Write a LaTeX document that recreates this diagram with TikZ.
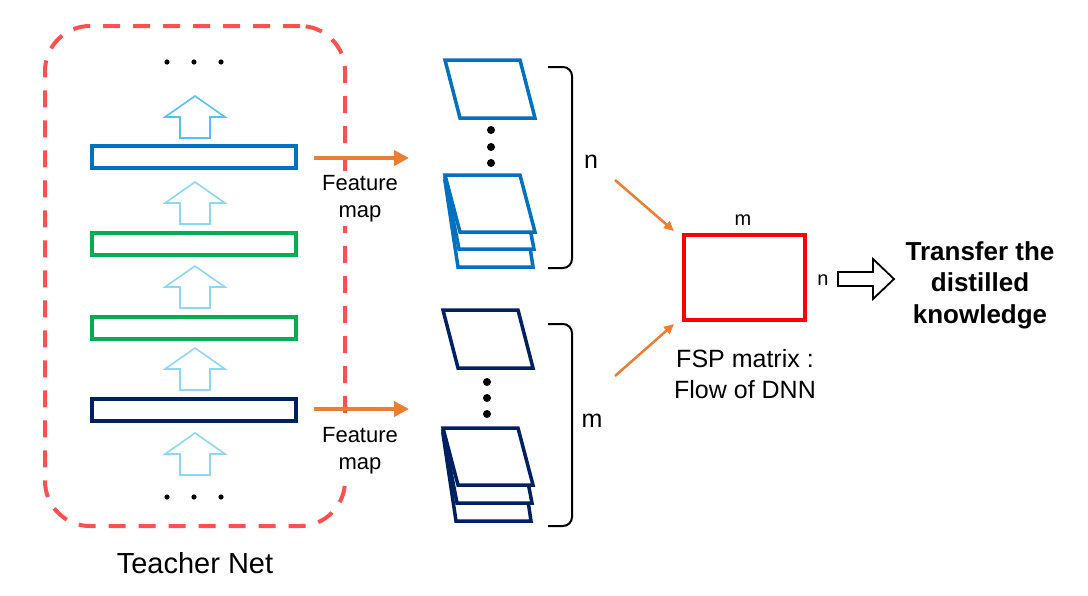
\documentclass[tikz,border=0pt]{standalone}
\usepackage{fontspec}
\setmainfont{Liberation Sans}
\usetikzlibrary{arrows.meta}
\definecolor{lblue}{HTML}{0070C0}
\definecolor{lgreen}{HTML}{00B050}
\definecolor{lnavy}{HTML}{002060}
\definecolor{dashred}{HTML}{FF5050}
\definecolor{lorange}{HTML}{ED7D31}
\definecolor{skyA}{RGB}{80,195,240}
\definecolor{skyB}{RGB}{140,214,246}
\definecolor{fspred}{HTML}{FF0000}
\newcommand{\uparr}[3]{\draw[#3, line width=1.6pt, line join=miter] (#1,#2) -- ++(30,21) -- ++(-15,0) -- ++(0,21) -- ++(-30,0) -- ++(0,-21) -- ++(-15,0) -- cycle;}
\newcommand{\sheet}[4]{\filldraw[fill=white, draw=#4, line width=3.5pt, line join=miter] (#1,#2) -- ++(75,0) -- ++(15,#3) -- ++(-75,0) -- cycle;}
% back sheet: top-left x, top y, bottom y, bottom-left x, colour
\newcommand{\backsheet}[5]{\filldraw[fill=white, draw=#5, line width=3.5pt, line join=miter] (#1,#2) -- ++(75,0) -- (#4+75,#3) -- (#4,#3) -- cycle;}
\begin{document}
\begin{tikzpicture}[x=1pt,y=-1pt,
  layer/.style={draw, line width=4pt, minimum width=204pt, minimum height=22pt, inner sep=0pt},
  fmtext/.style={fill=white, align=center, inner xsep=2pt, inner ysep=4pt, anchor=north, font=\fontsize{22}{27}\selectfont},
  fmarrow/.style={draw=lorange, line width=4pt, -{Triangle[length=15pt, width=15pt]}},
  thinarrow/.style={draw=lorange, line width=2.5pt, -{Triangle[length=10pt, width=9pt]}},
  brace/.style={draw=black, line width=2pt, rounded corners=9pt},
  dotc/.style={fill=black}
]
\useasboundingbox (0,0) rectangle (1088,595);

% teacher net dashed box
\node[draw=dashred, line width=4pt, dash pattern=on 17pt off 13pt, rounded corners=45pt,
      minimum width=300pt, minimum height=500pt, inner sep=0pt] (teacher) at (195,276) {};
\node[anchor=base, font=\fontsize{29}{35}\selectfont] (tlabel) at (195,573) {Teacher Net};

% dots
\foreach \xx in {167,194,221} {
  \fill[dotc] (\xx,62) circle (2.6pt);
  \fill[dotc] (\xx,497) circle (2.6pt);
}

% up arrows
\uparr{195}{96}{skyA}
\uparr{195}{182}{skyB}
\uparr{195}{266}{skyB}
\uparr{195}{348}{skyB}
\uparr{195}{433}{skyB}

% layers
\node[layer, draw=lblue] (L4) at (194,157) {};
\node[layer, draw=lgreen] (L3) at (194,244) {};
\node[layer, draw=lgreen] (L2) at (194,328) {};
\node[layer, draw=lnavy] (L1) at (194,410) {};

% feature map arrows
\coordinate (a1s) at (314,158);
\coordinate (a1e) at (409,158);
\coordinate (a2s) at (314,409);
\coordinate (a2e) at (409,409);
\draw[fmarrow] (a1s) -- (a1e);
\draw[fmarrow] (a2s) -- (a2e);
\node[fmtext] (fm1) at (360,171) {Feature\\map};
\node[fmtext] (fm2) at (360,423) {Feature\\map};

% stack 1
\sheet{445}{60}{58}{lblue}
\foreach \yy in {130,147,163} {\fill[dotc] (491,\yy) circle (4pt);}
\backsheet{445}{181}{267}{458}{lblue}
\backsheet{445}{178}{249}{459}{lblue}
\sheet{445}{175}{57}{lblue}

% stack 2
\sheet{443}{310}{58}{lnavy}
\foreach \yy in {382,398,414} {\fill[dotc] (487,\yy) circle (4pt);}
\backsheet{443}{434}{521}{456}{lnavy}
\backsheet{443}{431}{503}{457}{lnavy}
\sheet{443}{428}{57}{lnavy}

% braces
\draw[brace] (548,67) -| (572,268) -- (548,268);
\draw[brace] (548,324) -| (572,526) -- (548,526);
\node[anchor=base, font=\fontsize{25}{30}\selectfont] (nlab) at (591,168) {n};
\node[anchor=base, font=\fontsize{25}{30}\selectfont] (mlab) at (592,427) {m};

% FSP matrix
\node[draw=fspred, line width=4pt, minimum width=121pt, minimum height=85pt, inner sep=0pt] (fsp) at (744.5,277.5) {};
\node[anchor=base, font=\fontsize{20}{24}\selectfont] (fspm) at (743,225) {m};
\node[anchor=base, font=\fontsize{20}{24}\selectfont] (fspn) at (823,285) {n};
\node[anchor=north, align=center, inner sep=0pt, font=\fontsize{25}{31}\selectfont] (fsptext) at (745,349) {FSP matrix :\\Flow of DNN};

\coordinate (t1s) at (615,180);
\coordinate (t1e) at (674,231);
\coordinate (t2s) at (615,376);
\coordinate (t2e) at (674,324);
\draw[thinarrow] (t1s) -- (t1e);
\draw[thinarrow] (t2s) -- (t2e);

% hollow right arrow
\draw[line width=1.8pt, line join=miter] (838,272) -- (873,272) -- (873,259) -- (894,279) -- (873,299) -- (873,286) -- (838,286) -- cycle;

\node[anchor=north, align=center, inner sep=0pt, font=\bfseries\fontsize{26}{31.5}\selectfont] (transfer) at (980,241) {Transfer the\\distilled\\knowledge};
\end{tikzpicture}
\end{document}
